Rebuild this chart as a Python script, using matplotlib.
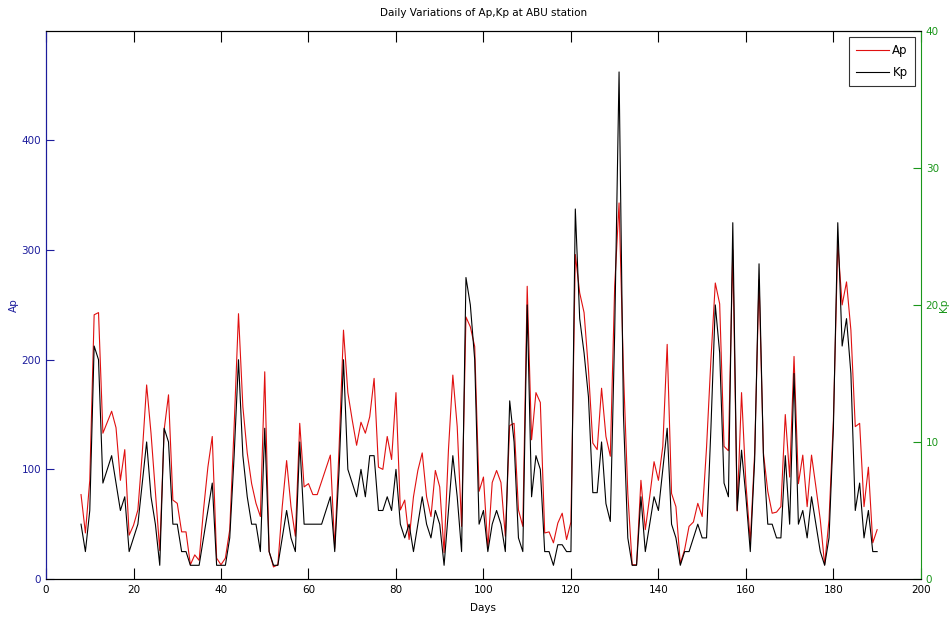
import matplotlib
matplotlib.use("Agg")
import matplotlib.pyplot as plt
import numpy as np

plt.rcParams['font.family'] = ['Liberation Sans Narrow', 'DejaVu Sans']

# days 8..190
days = list(range(8, 191))

# Ap values (left axis), 10 per row starting at day 8
ap = [
    77, 42, 90, 241, 243, 133, 143, 153, 138, 90,
    118, 40, 49, 63, 115, 177, 133, 80, 26, 136,
    168, 72, 69, 43, 43, 13, 22, 17, 63, 102,
    130, 19, 13, 19, 45, 139, 242, 157, 115, 87,
    69, 57, 189, 25, 11, 13, 66, 108, 66, 39,
    142, 84, 87, 77, 77, 89, 101, 113, 28, 120,
    227, 170, 145, 122, 143, 133, 148, 183, 102, 100,
    130, 109, 170, 63, 72, 36, 75, 99, 115, 75,
    57, 99, 84, 24, 118, 186, 139, 48, 239, 230,
    212, 80, 93, 28, 88, 99, 88, 39, 140, 142,
    63, 48, 267, 127, 170, 161, 42, 43, 33, 51,
    60, 36, 52, 296, 261, 243, 191, 124, 118, 174,
    130, 112, 267, 343, 190, 78, 13, 13, 90, 45,
    75, 107, 90, 121, 214, 78, 66, 14, 27, 48,
    52, 69, 57, 120, 200, 270, 251, 121, 117, 300,
    62, 170, 87, 34, 115, 273, 115, 80, 60, 61,
    66, 150, 93, 203, 87, 113, 66, 113, 84, 54,
    13, 54, 145, 306, 250, 271, 227, 139, 142, 66,
    102, 33, 45,
]

# Kp values (right axis)
kp = [
    4, 2, 5, 17, 16, 7, 8, 9, 7, 5,
    6, 2, 3, 4, 7, 10, 6, 4, 1, 11,
    10, 4, 4, 2, 2, 1, 1, 1, 3, 5,
    7, 1, 1, 1, 3, 9, 16, 9, 6, 4,
    4, 2, 11, 2, 1, 1, 3, 5, 3, 2,
    10, 4, 4, 4, 4, 4, 5, 6, 2, 8,
    16, 8, 7, 6, 8, 6, 9, 9, 5, 5,
    6, 5, 8, 4, 3, 4, 2, 4, 6, 4,
    3, 5, 4, 1, 5, 9, 6, 2, 22, 20,
    16, 4, 5, 2, 4, 5, 4, 2, 13, 10,
    3, 2, 20, 6, 9, 8, 2, 2, 1, 2.5,
    2.5, 2, 2, 27, 19, 16.5, 13.3, 6.3, 6.3, 10,
    5.5, 4.2, 18, 37, 12, 3, 1, 1, 6, 2,
    4, 6, 5, 8, 11, 4, 3, 1, 2, 2,
    3, 4, 3, 3, 11, 20, 16.5, 7, 6, 26,
    5, 9.4, 6, 2, 8.7, 23, 9, 4, 4, 3,
    3, 9, 4, 15, 4, 5, 3, 6, 4, 2,
    1, 3, 11, 26, 17, 19, 15, 5, 7, 3,
    5, 2, 2,
]

blue = '#1c1c9c'
green = '#1a961a'

fig = plt.figure(figsize=(9.53, 6.18), dpi=100)
ax = fig.add_axes([0.0483, 0.0631, 0.918, 0.887])
ax2 = ax.twinx()

l1, = ax.plot(days, ap, color='#e01010', linewidth=0.8, label='Ap')
l2, = ax2.plot(days, kp, color='black', linewidth=0.8, label='Kp')

ax.set_xlim(0, 200)
ax.set_ylim(0, 500)
ax2.set_ylim(0, 40)
ax.set_xticks(range(0, 201, 20))
ax.set_yticks(range(0, 401, 100))
ax2.set_yticks(range(0, 41, 10))

ax.tick_params(axis='x', direction='in', length=8, top=True, labelsize=7.5, pad=4)
ax.tick_params(axis='y', direction='in', length=6, colors=blue, labelsize=7.5)
ax2.tick_params(axis='y', direction='in', length=6, colors=green, labelsize=7.5)

ax.spines['left'].set_color(blue)
ax2.spines['left'].set_color(blue)
ax2.spines['right'].set_color(green)
ax.spines['right'].set_visible(False)

ax.set_title('Daily Variations of Ap,Kp at ABU station', fontsize=7.5, pad=11)
ax.set_xlabel('Days', fontsize=7.5, labelpad=6)
ax.set_ylabel('Ap', fontsize=7.5, color=blue, labelpad=2)
ax2.set_ylabel('Kp', fontsize=7.5, color=green, rotation=90, labelpad=0)

leg = ax2.legend(handles=[l1, l2], loc='upper right', fontsize=8.5, frameon=True,
                 fancybox=False, edgecolor='black', handlelength=2.8,
                 borderaxespad=0.5, borderpad=0.6, labelspacing=0.8, handletextpad=0.3)
leg.get_frame().set_linewidth(0.8)

fig.savefig('out.png', dpi=100)
